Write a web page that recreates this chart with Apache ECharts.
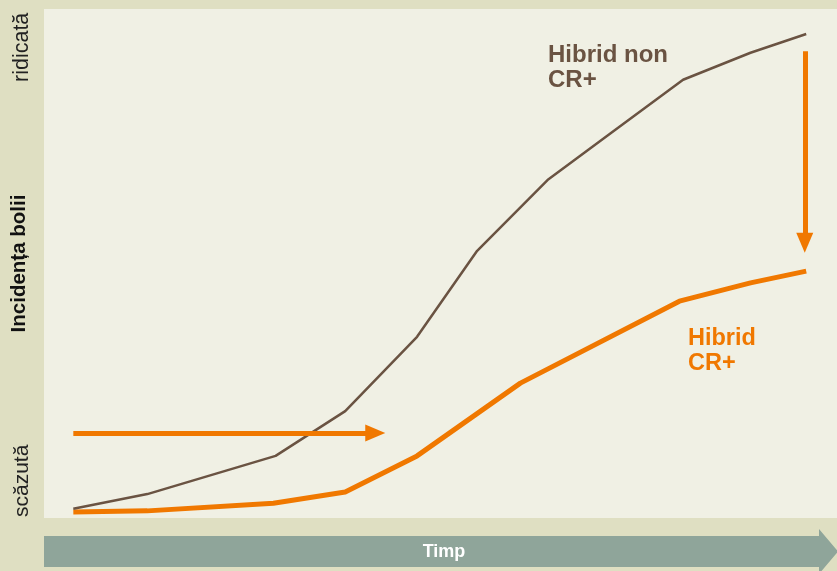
<!DOCTYPE html>
<html>
<head>
<meta charset="utf-8">
<script src="https://cdn.jsdelivr.net/npm/echarts@6/dist/echarts.min.js"></script>
<style>
  html, body { margin: 0; padding: 0; background: #dfdfc2; }
  #chart { width: 837px; height: 571px; }
</style>
</head>
<body>
<div id="chart"></div>
<script>
// timp (unitati relative) si incidenta bolii (0 = scazuta, 100 = ridicata)
const nonCrTime = [0, 1.01, 2.76, 3.71, 4.69, 5.51, 6.47, 7.35, 8.32, 9.24, 10]
const nonCrValues = [1.8, 4.7, 12.2, 21.0, 35.6, 52.5, 66.4, 75.8, 86.1, 91.4, 95.1]
const crTime = [0, 1.01, 2.73, 3.71, 4.69, 6.1, 8.27, 9.24, 10]
const crValues = [1.2, 1.4, 2.9, 5.1, 12.2, 26.5, 42.6, 46.2, 48.5]
// sageti: intarziere in timp si reducere a incidentei
const delayArrow = [[0, 16.7], [4.12, 16.7]]
const dropArrow = [[9.98, 91.7], [9.98, 54.1]]
const yLabels = ['scăzută', 'ridicată']

const BROWN = '#6a5342'
const ORANGE = '#f07800'
const FONT = '"Liberation Sans", Arial, sans-serif'

const chart = echarts.init(document.getElementById('chart'), null, { renderer: 'canvas' })

const arrowStyle = { color: ORANGE, width: 5, type: 'solid', cap: 'butt' }

chart.setOption({
  backgroundColor: '#dfdfc2',
  animation: false,
  grid: {
    left: 44, right: 0, top: 9, bottom: 53,
    show: true, backgroundColor: '#f0f0e4', borderWidth: 0
  },
  xAxis: { type: 'value', min: -0.4, max: 10.42, show: false },
  yAxis: {
    type: 'value', min: 0, max: 100,
    name: 'Incidența bolii',
    nameLocation: 'middle',
    nameRotate: 90,
    nameGap: 14,
    nameTextStyle: { fontFamily: FONT, fontWeight: 'bold', fontSize: 20.5, color: '#111' },
    axisLine: { show: false }, axisTick: { show: false },
    axisLabel: { show: false }, splitLine: { show: false }
  },
  graphic: [
    {
      type: 'text', x: 22.5, y: 517, rotation: Math.PI / 2,
      style: { text: yLabels[0], font: '21px ' + FONT, fill: '#222', align: 'left', verticalAlign: 'middle' }
    },
    {
      type: 'text', x: 22.5, y: 82, rotation: Math.PI / 2,
      style: { text: yLabels[1], font: '21.5px ' + FONT, fill: '#222', align: 'left', verticalAlign: 'middle' }
    },
    {
      type: 'polygon',
      shape: { points: [[44, 536], [819, 536], [819, 529], [838, 551.5], [819, 574], [819, 567], [44, 567]] },
      style: { fill: '#8fa59a' }
    },
    {
      type: 'text', x: 444, y: 552,
      style: { text: 'Timp', font: 'bold 18px ' + FONT, fill: '#fff', align: 'center', verticalAlign: 'middle' }
    },
    {
      type: 'text', x: 548, y: 43,
      style: { text: 'Hibrid non\nCR+', font: 'bold 24px ' + FONT, lineHeight: 25, fill: BROWN, align: 'left', verticalAlign: 'top' }
    },
    {
      type: 'text', x: 688, y: 326,
      style: { text: 'Hibrid\nCR+', font: 'bold 23.5px ' + FONT, lineHeight: 25, fill: ORANGE, align: 'left', verticalAlign: 'top' }
    }
  ],
  series: [
    {
      name: 'Hibrid CR+',
      type: 'line',
      data: crTime.map((t, i) => [t, crValues[i]]),
      symbol: 'none',
      lineStyle: { color: ORANGE, width: 5, cap: 'butt', join: 'round' },
      silent: true,
      z: 2,
      markLine: {
        silent: true,
        label: { show: false },
        lineStyle: arrowStyle,
        data: [
          [
            { coord: delayArrow[0], symbol: 'none' },
            { coord: delayArrow[1], symbol: 'triangle', symbolSize: [17, 20] }
          ],
          [
            { coord: dropArrow[0], symbol: 'none' },
            { coord: dropArrow[1], symbol: 'triangle', symbolSize: [17, 20] }
          ]
        ]
      }
    },
    {
      name: 'Hibrid non CR+',
      type: 'line',
      data: nonCrTime.map((t, i) => [t, nonCrValues[i]]),
      symbol: 'none',
      lineStyle: { color: BROWN, width: 2.5, cap: 'butt', join: 'round' },
      silent: true,
      z: 3
    }
  ]
})
</script>
</body>
</html>
